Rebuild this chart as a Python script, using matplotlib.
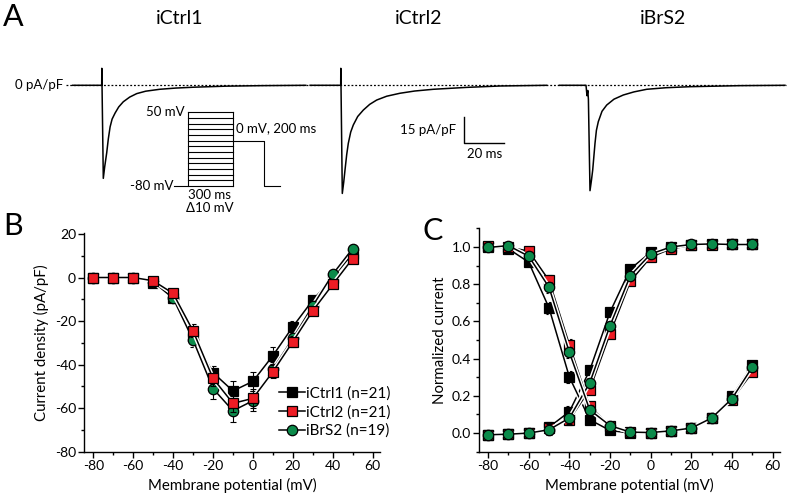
import matplotlib.pyplot as plt
from matplotlib import patheffects as pe
from matplotlib.ticker import MultipleLocator, FormatStrFormatter

plt.rcParams['font.family'] = ['Lato', 'DejaVu Sans']
plt.rcParams['axes.unicode_minus'] = False

W, H = 787, 498

# ---- panel A: example traces (ms, pA/pF), time relative to current onset
t_ctrl1 = [-14.5, 0, 0.05, 0.8, 1.5, 2.5, 3.3, 4.2, 5.2, 6.7, 8.5, 10.8, 14, 17.5, 22, 29, 37, 46, 62, 80, 102]
i_ctrl1 = [0, 0, 9.8, -53.7, -47, -39, -31, -24, -19.5, -16, -12.5, -9.5, -6.8, -4.8, -3.4, -2.3, -1.6, -1.1, -0.5, -0.2, 0]
t_ctrl2 = [-15.3, 0, 0.05, 0.8, 1.5, 2.15, 3, 3.8, 5, 6.3, 8.5, 11.3, 14.5, 18, 23, 29.6, 37, 46.3, 63, 79.6, 103]
i_ctrl2 = [0, 0, 9.8, -62.4, -56, -48.9, -40, -33.5, -27, -22.9, -18, -14.3, -11, -8.5, -6.3, -4.6, -3.3, -2.3, -1.2, -0.4, 0]
t_brs2 = [-13.3, 0, 0.5, 0.9, 1.2, 2.0, 2.7, 3.35, 4.5, 5.2, 6.15, 8, 10.35, 14, 18.65, 24, 30.35, 40, 52, 77, 99.5]
i_brs2 = [0, 0, -6, -3, -8, -60.8, -55, -48.9, -33.5, -26, -21, -15, -11.4, -8, -5.6, -3.8, -2.3, -1.4, -0.8, -0.2, 0]
onsets = [50.85, 170.35, 293.0]
trace_names = ['iCtrl1', 'iCtrl2', 'iBrS2']

# voltage protocol (mV)
steps = list(range(-80, 51, 10))
hold_v = -80
test_dur = 300
post_v = 0
post_dur = 200

# ---- panel B: current density (pA/pF)
vm = [-80, -70, -60, -50, -40, -30, -20, -10, 0, 10, 20, 30, 40, 50]
iv_ctrl1 = [0, 0, 0, -2.4, -9.6, -27, -43.7, -52.1, -47.7, -35.9, -22.6, -10.4, 0, 11]
iv_ctrl2 = [0, 0, 0, -1.5, -7.3, -24.5, -46.3, -57.8, -55.5, -43.3, -29.5, -15.3, -3.2, 8.7]
iv_brs2 = [0, 0, 0, -2, -9.5, -28.7, -51, -61.2, -56.6, -42, -28, -13, 1.5, 13.3]
iv_err1 = [0.3, 0.3, 0.3, 0.6, 1.2, 3, 3.2, 4.7, 4.5, 4, 2.5, 2, 1.5, 1.5]
iv_err2 = [0.3, 0.3, 0.3, 0.6, 1.2, 3, 3.5, 4, 4.5, 3, 2.5, 2, 1.5, 1.5]
iv_err3 = [0.3, 0.3, 0.3, 0.6, 1.2, 3, 5, 5, 4.5, 3, 2.5, 2, 1.5, 1.5]
labels_b = ['iCtrl1 (n=21)', 'iCtrl2 (n=21)', 'iBrS2 (n=19)']

# ---- panel C: normalized activation / inactivation
act_ctrl1 = [-0.009, -0.006, 0.0, 0.032, 0.115, 0.337, 0.65, 0.882, 0.971, 1.0, 1.012, 1.015, 1.013, 1.013]
act_ctrl2 = [-0.009, -0.006, 0.0, 0.025, 0.072, 0.233, 0.534, 0.815, 0.945, 0.99, 1.008, 1.012, 1.013, 1.013]
act_brs2 = [-0.009, -0.006, 0.0, 0.018, 0.081, 0.269, 0.577, 0.846, 0.962, 1.0, 1.013, 1.016, 1.013, 1.013]
inact_ctrl1 = [1.0, 0.99, 0.918, 0.672, 0.301, 0.072, 0.014, 0.0, 0.003, 0.012, 0.027, 0.081, 0.197, 0.365]
inact_ctrl2 = [1.005, 1.0, 0.977, 0.82, 0.475, 0.143, 0.04, 0.005, 0.003, 0.012, 0.027, 0.081, 0.18, 0.326]
inact_brs2 = [0.997, 1.007, 0.95, 0.783, 0.434, 0.125, 0.04, 0.005, 0.003, 0.012, 0.027, 0.081, 0.185, 0.355]
err_c = [0.01, 0.01, 0.015, 0.03, 0.03, 0.025, 0.02, 0.015, 0.01, 0.01, 0.01, 0.01, 0.015, 0.02]

black = 'black'
red = '#ed1c24'
green = '#0b8a4a'
halo = [pe.Stroke(linewidth=3.2, foreground='white'), pe.Normal()]
FS_TXT = 9.5
FS_LAB = 10.8


def box(x0, y0, x1, y1):
    return [x0 / W, 1 - y1 / H, (x1 - x0) / W, (y1 - y0) / H]


fig = plt.figure(figsize=(W / 100, H / 100), dpi=100)

# ================= A
ax_a = fig.add_axes(box(0, 0, W, 200))
ax_a.set_xlim(0, W / 2)
ax_a.set_ylim((85.3 - 200) / 1.733, 85.3 / 1.733)
ax_a.axis('off')
ax_a.plot([33, W / 2], [0, 0], color='black', lw=0.9, ls=(0, (1.5, 1.5)))
for t, i, t0 in zip([t_ctrl1, t_ctrl2, t_brs2], [i_ctrl1, i_ctrl2, i_brs2], onsets):
    ax_a.plot([x + t0 for x in t], i, color='black', lw=1.1)
# scale bar 20 ms / 15 pA/pF
sb_x, sb_y = 232.15, (85.3 - 143.3) / 1.733
ax_a.plot([sb_x, sb_x, sb_x + 20], [sb_y + 15, sb_y, sb_y], color='black', lw=1.0)
ax_a.text(sb_x - 4, sb_y + 7.5, '15 pA/pF', ha='right', va='center', fontsize=FS_TXT)
ax_a.text(sb_x + 10, sb_y - 3, '20 ms', ha='center', va='top', fontsize=FS_TXT)
ax_a.text(31.5, 0, '0 pA/pF', ha='right', va='center', fontsize=FS_TXT)
for name, x in zip(trace_names, [180, 419, 663]):
    fig.text(x / W, 1 - 18.5 / H, name, ha='center', va='center', fontsize=14)
fig.text(3 / W, 1 - 17 / H, 'A', ha='left', va='center', fontsize=22)

# protocol inset
ax_p = fig.add_axes(box(170, 105, 285, 192))
ax_p.set_xlim((170 - 187.7) / 0.152, (285 - 187.7) / 0.152)
ax_p.set_ylim(-80 - 6 / 0.567, 50 + 7.3 / 0.567)
ax_p.axis('off')
plw = 0.8
for v in steps:
    ax_p.plot([0, test_dur], [v, v], color='black', lw=plw)
ax_p.plot([-88, 0, 0], [hold_v, hold_v, steps[-1]], color='black', lw=plw)
ax_p.plot([test_dur, test_dur], [hold_v, steps[-1]], color='black', lw=plw)
ax_p.plot([test_dur, test_dur + post_dur, test_dur + post_dur, test_dur + post_dur + 105],
          [post_v, post_v, hold_v, hold_v], color='black', lw=plw)
ax_p.text(-20, 50, '50 mV', ha='right', va='center', fontsize=FS_TXT)
ax_p.text(-95, hold_v, '-80 mV', ha='right', va='center', fontsize=FS_TXT)
ax_p.text(320, 22, '0 mV, 200 ms', ha='left', va='center', fontsize=FS_TXT)
fig.text(210 / W, 1 - 195 / H, '300 ms', ha='center', va='center', fontsize=FS_TXT)
fig.text(210 / W, 1 - 207.5 / H, '\u039410 mV', ha='center', va='center', fontsize=FS_TXT)


def style(ax):
    for s in ['top', 'right']:
        ax.spines[s].set_visible(False)
    for s in ['left', 'bottom']:
        ax.spines[s].set_linewidth(1.0)
    ax.tick_params(which='major', direction='out', length=4, width=1.0, labelsize=10, pad=2)
    ax.tick_params(which='minor', direction='out', length=2.5, width=1.0)
    ax.xaxis.set_major_locator(MultipleLocator(20))
    ax.xaxis.set_minor_locator(MultipleLocator(10))
    ax.set_xlabel('Membrane potential (mV)', fontsize=FS_LAB, labelpad=4)


def draw(ax, y, c, m, z, e=None):
    if e is not None:
        ax.errorbar(vm, y, yerr=e, fmt='none', ecolor='black', elinewidth=0.8,
                    capsize=2, capthick=0.8, zorder=z)
    ax.plot(vm, y, color='black', lw=1.1, zorder=z, path_effects=halo)
    ax.plot(vm, y, ls='none', marker=m, markersize=7.5 if m == 'o' else 7,
            markerfacecolor=c, markeredgecolor='black', markeredgewidth=0.9, zorder=z + 0.1)


# ================= B
ax_b = fig.add_axes(box(84.3, 233.3, 380, 451.7))
ax_b.set_xlim(-84.5, 63.7)
ax_b.set_ylim(-80, 20.3)
style(ax_b)
ax_b.yaxis.set_major_locator(MultipleLocator(20))
ax_b.yaxis.set_minor_locator(MultipleLocator(10))
ax_b.set_ylabel('Current density (pA/pF)', fontsize=FS_LAB, labelpad=4)
draw(ax_b, iv_ctrl1, black, 's', 3, iv_err1)
draw(ax_b, iv_brs2, green, 'o', 4, iv_err3)
draw(ax_b, iv_ctrl2, red, 's', 5, iv_err2)
handles = [plt.Line2D([], [], color='black', lw=1.1, marker=m, markersize=7.5 if m == 'o' else 7,
                      markerfacecolor=c, markeredgecolor='black', markeredgewidth=0.9)
           for c, m in [(black, 's'), (red, 's'), (green, 'o')]]
ax_b.legend(handles, labels_b, loc='upper left',
            bbox_to_anchor=(279 / W, 1 - 386 / H), bbox_transform=fig.transFigure,
            frameon=False, fontsize=11, handlelength=1.7, handletextpad=0.1,
            labelspacing=0.3, borderpad=0, borderaxespad=0)
fig.text(3 / W, 1 - 226 / H, 'B', ha='left', va='center', fontsize=22)

# ================= C
ax_c = fig.add_axes(box(479.3, 228.3, 780, 451.7))
ax_c.set_xlim(-84.3, 63.6)
ax_c.set_ylim(-0.1, 1.1)
style(ax_c)
ax_c.yaxis.set_major_locator(MultipleLocator(0.2))
ax_c.yaxis.set_minor_locator(MultipleLocator(0.1))
ax_c.yaxis.set_major_formatter(FormatStrFormatter('%.1f'))
ax_c.set_ylabel('Normalized current', fontsize=FS_LAB, labelpad=3)
for y, c, m, z in [(act_ctrl1, black, 's', 3), (inact_ctrl1, black, 's', 3),
                   (act_ctrl2, red, 's', 4), (inact_ctrl2, red, 's', 4),
                   (act_brs2, green, 'o', 5), (inact_brs2, green, 'o', 5)]:
    draw(ax_c, y, c, m, z, err_c)
fig.text(422 / W, 1 - 231 / H, 'C', ha='left', va='center', fontsize=22)

fig.savefig('out.png', dpi=100)
